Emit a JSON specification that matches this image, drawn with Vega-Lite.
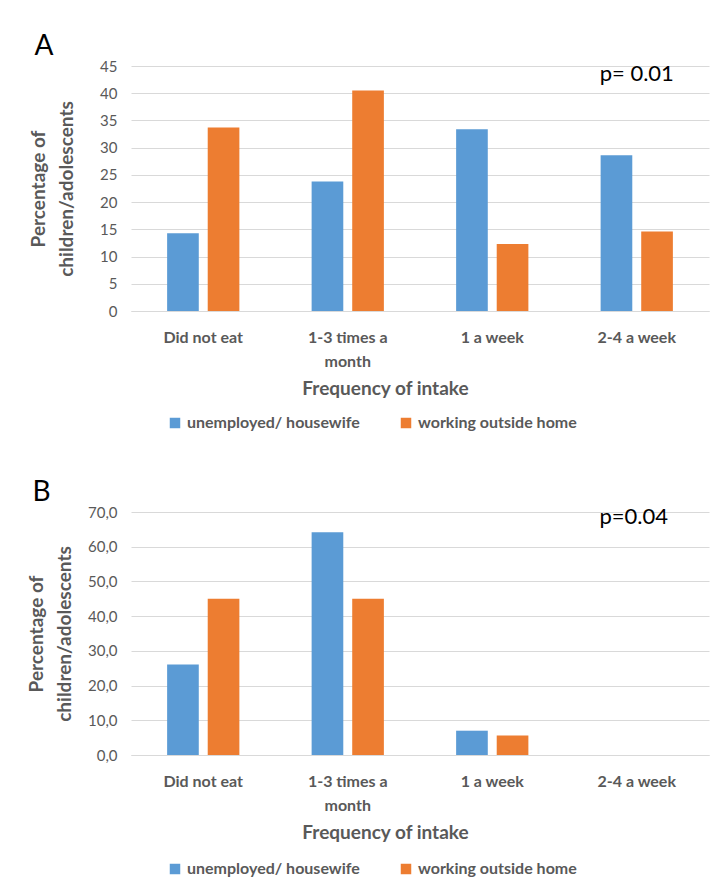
{
  "$schema": "https://vega.github.io/schema/vega-lite/v6.json",
  "background": "white",
  "padding": {"left": 27, "top": 33, "right": 10, "bottom": 5},
  "config": {
    "font": "Lato",
    "view": {"stroke": null},
    "axis": {"labelColor": "#595959", "titleColor": "#595959", "gridColor": "#d9d9d9", "domainColor": "#d9d9d9"},
    "legend": {"orient": "none", "legendX": 36, "legendY": 349, "direction": "horizontal", "symbolType": "square", "symbolSize": 110, "labelFontSize": 16, "labelFontWeight": "bold", "labelColor": "#595959", "labelLimit": 400, "columnPadding": 38, "title": null},
    "title": {"anchor": "start", "frame": "bounds", "fontSize": 28, "fontWeight": "normal", "color": "black", "offset": -2}
  },
  "datasets": {
    "A": [
      {"frequency": "Did not eat", "group": "unemployed/ housewife", "percent": 14.3},
      {"frequency": "Did not eat", "group": "working outside home", "percent": 33.7},
      {"frequency": "1-3 times a month", "group": "unemployed/ housewife", "percent": 23.8},
      {"frequency": "1-3 times a month", "group": "working outside home", "percent": 40.5},
      {"frequency": "1 a week", "group": "unemployed/ housewife", "percent": 33.4},
      {"frequency": "1 a week", "group": "working outside home", "percent": 12.3},
      {"frequency": "2-4 a week", "group": "unemployed/ housewife", "percent": 28.6},
      {"frequency": "2-4 a week", "group": "working outside home", "percent": 14.6}
    ],
    "B": [
      {"frequency": "Did not eat", "group": "unemployed/ housewife", "percent": 26.1},
      {"frequency": "Did not eat", "group": "working outside home", "percent": 45.0},
      {"frequency": "1-3 times a month", "group": "unemployed/ housewife", "percent": 64.2},
      {"frequency": "1-3 times a month", "group": "working outside home", "percent": 45.0},
      {"frequency": "1 a week", "group": "unemployed/ housewife", "percent": 7.0},
      {"frequency": "1 a week", "group": "working outside home", "percent": 5.6},
      {"frequency": "2-4 a week", "group": "unemployed/ housewife", "percent": 0},
      {"frequency": "2-4 a week", "group": "working outside home", "percent": 0}
    ],
    "pA": [{"label": "p= 0.01"}],
    "pB": [{"label": "p=0.04"}]
  },
  "vconcat": [
    {
      "title": {"text": "A", "dx": 5},
      "width": 578,
      "height": 245,
      "layer": [
        {
          "data": {"name": "A"},
          "mark": {"type": "bar"},
          "encoding": {
            "x": {"field": "frequency", "type": "nominal", "title": "Frequency of intake",
              "scale": {"domain": ["Did not eat", "1-3 times a month", "1 a week", "2-4 a week"], "paddingInner": 0.5, "paddingOuter": 0.25},
              "axis": {"labelAngle": 0, "labelFontSize": 16, "labelFontWeight": "bold", "labelPadding": 18, "ticks": false, "titleFontSize": 19, "titleFontWeight": "bold", "titlePadding": 10, "titleX": 254, "labelExpr": "datum.label == '1-3 times a month' ? ['1-3 times a', 'month'] : datum.label", "labelLineHeight": 24}},
            "y": {"field": "percent", "type": "quantitative", "scale": {"domain": [0, 45]},
              "axis": {"values": [0, 5, 10, 15, 20, 25, 30, 35, 40, 45], "title": ["Percentage of", "children/adolescents"], "titleFontSize": 19, "titleFontWeight": "bold", "titleLineHeight": 28, "titlePadding": 23, "labelFontSize": 15, "labelPadding": 14, "ticks": false, "domain": false, "grid": true}},
            "xOffset": {"field": "group", "type": "nominal", "scale": {"domain": ["unemployed/ housewife", "working outside home"], "paddingInner": 0.22}},
            "color": {"field": "group", "type": "nominal", "scale": {"domain": ["unemployed/ housewife", "working outside home"], "range": ["#5B9BD5", "#ED7D31"]}}
          }
        },
        {
          "data": {"name": "pA"},
          "mark": {"type": "text", "fontSize": 22, "color": "black", "baseline": "middle", "dy": 8, "dx": 0},
          "encoding": {
            "x": {"datum": "2-4 a week", "type": "nominal", "title": "Frequency of intake",
              "scale": {"domain": ["Did not eat", "1-3 times a month", "1 a week", "2-4 a week"], "paddingInner": 0.5, "paddingOuter": 0.25},
              "axis": {"labelAngle": 0, "labelFontSize": 16, "labelFontWeight": "bold", "labelPadding": 18, "ticks": false, "titleFontSize": 19, "titleFontWeight": "bold", "titlePadding": 10, "titleX": 254, "labelExpr": "datum.label == '1-3 times a month' ? ['1-3 times a', 'month'] : datum.label", "labelLineHeight": 24}},
            "y": {"datum": 45, "type": "quantitative", "scale": {"domain": [0, 45]},
              "axis": {"values": [0, 5, 10, 15, 20, 25, 30, 35, 40, 45], "title": ["Percentage of", "children/adolescents"], "titleFontSize": 19, "titleFontWeight": "bold", "titleLineHeight": 28, "titlePadding": 23, "labelFontSize": 15, "labelPadding": 14, "ticks": false, "domain": false, "grid": true}},
            "text": {"field": "label"}
          }
        }
      ]
    },
    {
      "title": {"text": "B", "dx": 5},
      "width": 578,
      "height": 243,
      "layer": [
        {
          "data": {"name": "B"},
          "mark": {"type": "bar"},
          "encoding": {
            "x": {"field": "frequency", "type": "nominal", "title": "Frequency of intake",
              "scale": {"domain": ["Did not eat", "1-3 times a month", "1 a week", "2-4 a week"], "paddingInner": 0.5, "paddingOuter": 0.25},
              "axis": {"labelAngle": 0, "labelFontSize": 16, "labelFontWeight": "bold", "labelPadding": 18, "ticks": false, "titleFontSize": 19, "titleFontWeight": "bold", "titlePadding": 10, "titleX": 254, "labelExpr": "datum.label == '1-3 times a month' ? ['1-3 times a', 'month'] : datum.label", "labelLineHeight": 24}},
            "y": {"field": "percent", "type": "quantitative", "scale": {"domain": [0, 70]},
              "axis": {"values": [0, 10, 20, 30, 40, 50, 60, 70], "labelExpr": "replace(format(datum.value, '.1f'), '.', ',')", "title": ["Percentage of", "children/adolescents"], "titleFontSize": 19, "titleFontWeight": "bold", "titleLineHeight": 28, "titlePadding": 13, "labelFontSize": 15, "labelPadding": 14, "ticks": false, "domain": false, "grid": true}},
            "xOffset": {"field": "group", "type": "nominal", "scale": {"domain": ["unemployed/ housewife", "working outside home"], "paddingInner": 0.22}},
            "color": {"field": "group", "type": "nominal", "scale": {"domain": ["unemployed/ housewife", "working outside home"], "range": ["#5B9BD5", "#ED7D31"]}}
          }
        },
        {
          "data": {"name": "pB"},
          "mark": {"type": "text", "fontSize": 22, "color": "black", "baseline": "middle", "dy": 5, "dx": -3},
          "encoding": {
            "x": {"datum": "2-4 a week", "type": "nominal", "title": "Frequency of intake",
              "scale": {"domain": ["Did not eat", "1-3 times a month", "1 a week", "2-4 a week"], "paddingInner": 0.5, "paddingOuter": 0.25},
              "axis": {"labelAngle": 0, "labelFontSize": 16, "labelFontWeight": "bold", "labelPadding": 18, "ticks": false, "titleFontSize": 19, "titleFontWeight": "bold", "titlePadding": 10, "titleX": 254, "labelExpr": "datum.label == '1-3 times a month' ? ['1-3 times a', 'month'] : datum.label", "labelLineHeight": 24}},
            "y": {"datum": 70, "type": "quantitative", "scale": {"domain": [0, 70]},
              "axis": {"values": [0, 10, 20, 30, 40, 50, 60, 70], "labelExpr": "replace(format(datum.value, '.1f'), '.', ',')", "title": ["Percentage of", "children/adolescents"], "titleFontSize": 19, "titleFontWeight": "bold", "titleLineHeight": 28, "titlePadding": 13, "labelFontSize": 15, "labelPadding": 14, "ticks": false, "domain": false, "grid": true}},
            "text": {"field": "label"}
          }
        }
      ]
    }
  ],
  "spacing": 48,
  "resolve": {"legend": {"color": "independent"}, "scale": {"y": "independent", "x": "independent", "color": "independent"}}
}
